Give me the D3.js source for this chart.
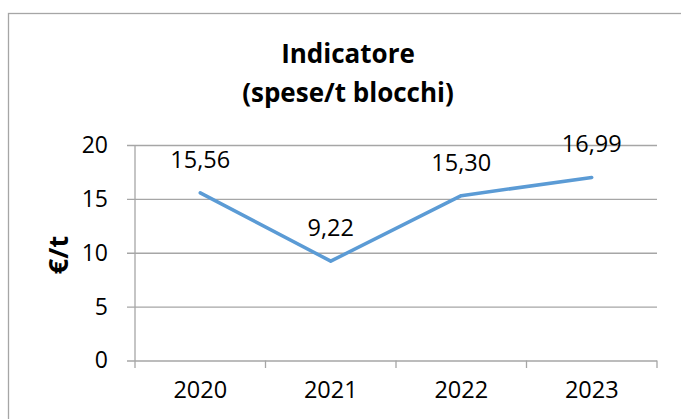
<!DOCTYPE html>
<html>
<head>
<meta charset="utf-8">
<script src="https://cdn.jsdelivr.net/npm/d3@7"></script>
<style>
  body { margin: 0; background: #fff; }
  svg { display: block; font-family: "Open Sans", sans-serif; }
</style>
</head>
<body>
<div id="vis"></div>
<script>
var years = ['2020', '2021', '2022', '2023'];
var values = [15.56, 9.22, 15.30, 16.99];
var yTicks = [0, 5, 10, 15, 20];
var titleLines = ['Indicatore', '(spese/t blocchi)'];
var yLabel = '€/t';

var width = 681;
var height = 419;
var plot = { left: 135, right: 657, top: 145, bottom: 360.5 };
var gridColor = '#a6a6a6';
var lineColor = '#5b9bd5';

var itFormat = d3.formatLocale({ decimal: ',', thousands: '.', grouping: [3], currency: ['€', ''] }).format('.2f');

var svg = d3.select('#vis')
            .append('svg')
            .attr('width', width)
            .attr('height', height);

// chart border (runs off the right and bottom of the picture)
svg.append('rect')
   .attr('x', 8.5)
   .attr('y', 13.5)
   .attr('width', 700)
   .attr('height', 500)
   .attr('fill', 'none')
   .attr('stroke', gridColor)
   .attr('stroke-width', 1.3);

var xScale = d3.scaleBand()
               .domain(years)
               .range([plot.left, plot.right]);

var yScale = d3.scaleLinear()
               .domain([0, 20])
               .range([plot.bottom, plot.top]);

// gridlines + y tick labels
var yAxis = d3.axisLeft(yScale)
              .tickValues(yTicks)
              .tickSize(plot.right - 127)
              .tickPadding(19);
var yAxisG = svg.append('g')
                .attr('transform', 'translate(' + plot.right + ',0)')
                .call(yAxis);
yAxisG.select('.domain').remove();
yAxisG.selectAll('line').attr('stroke', gridColor).attr('stroke-width', 1.3);
yAxisG.selectAll('text')
      .attr('fill', '#000')
      .style('font-size', '23px')
      .style('font-family', '"Open Sans", sans-serif');

// vertical axis line
svg.append('line')
   .attr('x1', plot.left).attr('x2', plot.left)
   .attr('y1', plot.top).attr('y2', plot.bottom + 7.5)
   .attr('stroke', gridColor)
   .attr('stroke-width', 1.3);

// category labels
var xAxis = d3.axisBottom(xScale).tickSize(0).tickPadding(21);
var xAxisG = svg.append('g')
                .attr('transform', 'translate(0,' + plot.bottom + ')')
                .call(xAxis);
xAxisG.select('.domain').remove();
xAxisG.selectAll('text')
      .attr('fill', '#000')
      .style('font-size', '23.5px')
      .style('font-family', '"Open Sans", sans-serif');

// category boundary ticks
var bounds = years.map(function(d) { return xScale(d) + xScale.bandwidth(); });
svg.selectAll('.xtick')
   .data(bounds)
   .enter()
   .append('line')
   .attr('class', 'xtick')
   .attr('x1', function(d) { return d; })
   .attr('x2', function(d) { return d; })
   .attr('y1', plot.bottom)
   .attr('y2', plot.bottom + 7.5)
   .attr('stroke', gridColor)
   .attr('stroke-width', 1.3);

// data line
var line = d3.line()
             .x(function(d, i) { return xScale(years[i]) + xScale.bandwidth() / 2; })
             .y(function(d) { return yScale(d); });

svg.append('path')
   .datum(values)
   .attr('d', line)
   .attr('fill', 'none')
   .attr('stroke', lineColor)
   .attr('stroke-width', 3.5)
   .attr('stroke-linejoin', 'round')
   .attr('stroke-linecap', 'round');

// data labels
svg.selectAll('.dlabel')
   .data(values)
   .enter()
   .append('text')
   .attr('class', 'dlabel')
   .attr('x', function(d, i) { return xScale(years[i]) + xScale.bandwidth() / 2; })
   .attr('y', function(d) { return yScale(d) - 25; })
   .attr('text-anchor', 'middle')
   .style('font-size', '23.5px')
   .text(function(d) { return itFormat(d); });

// title
svg.append('text')
   .attr('text-anchor', 'middle')
   .style('font-size', '26px')
   .style('font-weight', 'bold')
   .selectAll('tspan')
   .data(titleLines)
   .enter()
   .append('tspan')
   .attr('x', 348)
   .attr('y', function(d, i) { return 63 + i * 39; })
   .text(function(d) { return d; });

// y axis title
svg.append('text')
   .attr('transform', 'translate(68,255) rotate(-90)')
   .attr('text-anchor', 'middle')
   .style('font-size', '27px')
   .style('font-weight', 'bold')
   .text(yLabel);
</script>
</body>
</html>
